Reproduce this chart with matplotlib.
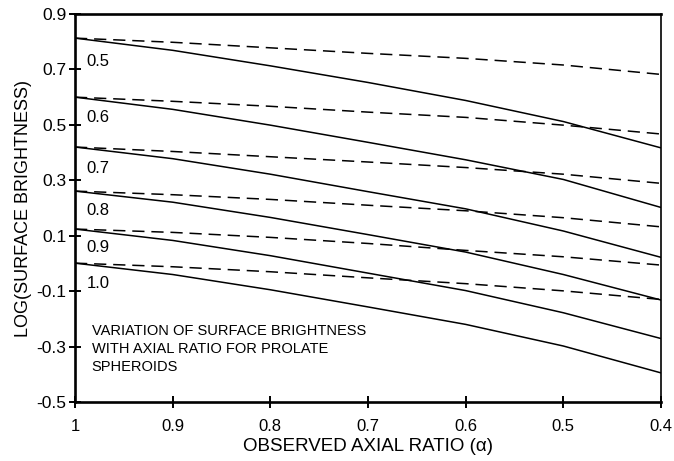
import matplotlib
matplotlib.use('Agg')
import matplotlib.pyplot as plt

plt.rcParams['font.family'] = ['Liberation Sans', 'DejaVu Sans']

# observed axial ratio (x positions of the readings)
alpha = [1.0, 0.9, 0.8, 0.7, 0.6, 0.5, 0.4]

# intrinsic axial ratios labelled on the left
ratios = ['0.5', '0.6', '0.7', '0.8', '0.9', '1.0']

# solid curves, log surface brightness
solid = {
    '0.5': [0.813, 0.769, 0.713, 0.653, 0.588, 0.512, 0.417],
    '0.6': [0.600, 0.556, 0.499, 0.437, 0.374, 0.303, 0.202],
    '0.7': [0.420, 0.378, 0.322, 0.259, 0.197, 0.117, 0.022],
    '0.8': [0.261, 0.221, 0.166, 0.104, 0.041, -0.040, -0.132],
    '0.9': [0.124, 0.083, 0.028, -0.035, -0.098, -0.178, -0.271],
    '1.0': [0.001, -0.040, -0.095, -0.157, -0.220, -0.298, -0.395],
}

# dashed curves
dashed = {
    '0.5': [0.813, 0.798, 0.778, 0.758, 0.740, 0.716, 0.682],
    '0.6': [0.600, 0.585, 0.567, 0.546, 0.527, 0.499, 0.467],
    '0.7': [0.420, 0.404, 0.385, 0.366, 0.346, 0.322, 0.289],
    '0.8': [0.261, 0.248, 0.231, 0.210, 0.190, 0.165, 0.132],
    '0.9': [0.124, 0.112, 0.094, 0.072, 0.047, 0.024, -0.006],
    '1.0': [0.001, -0.012, -0.030, -0.052, -0.073, -0.099, -0.130],
}

# baselines of the small labels
label_y = [0.713, 0.511, 0.327, 0.174, 0.040, -0.090]

note = ['VARIATION OF SURFACE BRIGHTNESS',
        'WITH AXIAL RATIO FOR PROLATE',
        'SPHEROIDS']
note_y = [-0.259, -0.325, -0.389]

fig = plt.figure(figsize=(6.74, 4.61), dpi=100)
ax = fig.add_axes([0.1113, 0.128, 0.8694, 0.8416])

for r in ratios:
    ax.plot(alpha, solid[r], color='black', lw=1.1)
    ax.plot(alpha, dashed[r], color='black', lw=1.1, dashes=(8, 4.5))

for r, y in zip(ratios, label_y):
    ax.text(0.988, y, r, fontsize=12, va='baseline', ha='left')

for line, y in zip(note, note_y):
    ax.text(0.983, y, line, fontsize=10.5, va='baseline', ha='left')

ax.set_xlim(1, 0.4)
ax.set_ylim(-0.5, 0.9)
ax.set_xticks([1, 0.9, 0.8, 0.7, 0.6, 0.5, 0.4])
ax.set_xticklabels(['1', '0.9', '0.8', '0.7', '0.6', '0.5', '0.4'])
ax.set_yticks([-0.5, -0.3, -0.1, 0.1, 0.3, 0.5, 0.7, 0.9])
ax.set_yticklabels(['-0.5', '-0.3', '-0.1', '0.1', '0.3', '0.5', '0.7', '0.9'])
ax.tick_params(direction='inout', length=8.5, width=1.4)
ax.tick_params(axis='x', labelsize=12, pad=8)
ax.tick_params(axis='y', labelsize=12.5, pad=2)

for s in ['left', 'bottom', 'top']:
    ax.spines[s].set_linewidth(1.9)
ax.spines['right'].set_linewidth(1.2)

ax.set_xlabel('OBSERVED AXIAL RATIO (α)', fontsize=13.5, labelpad=3)
ax.set_ylabel('LOG(SURFACE BRIGHTNESS)', fontsize=13, labelpad=3)

plt.savefig('out.png', dpi=100)
